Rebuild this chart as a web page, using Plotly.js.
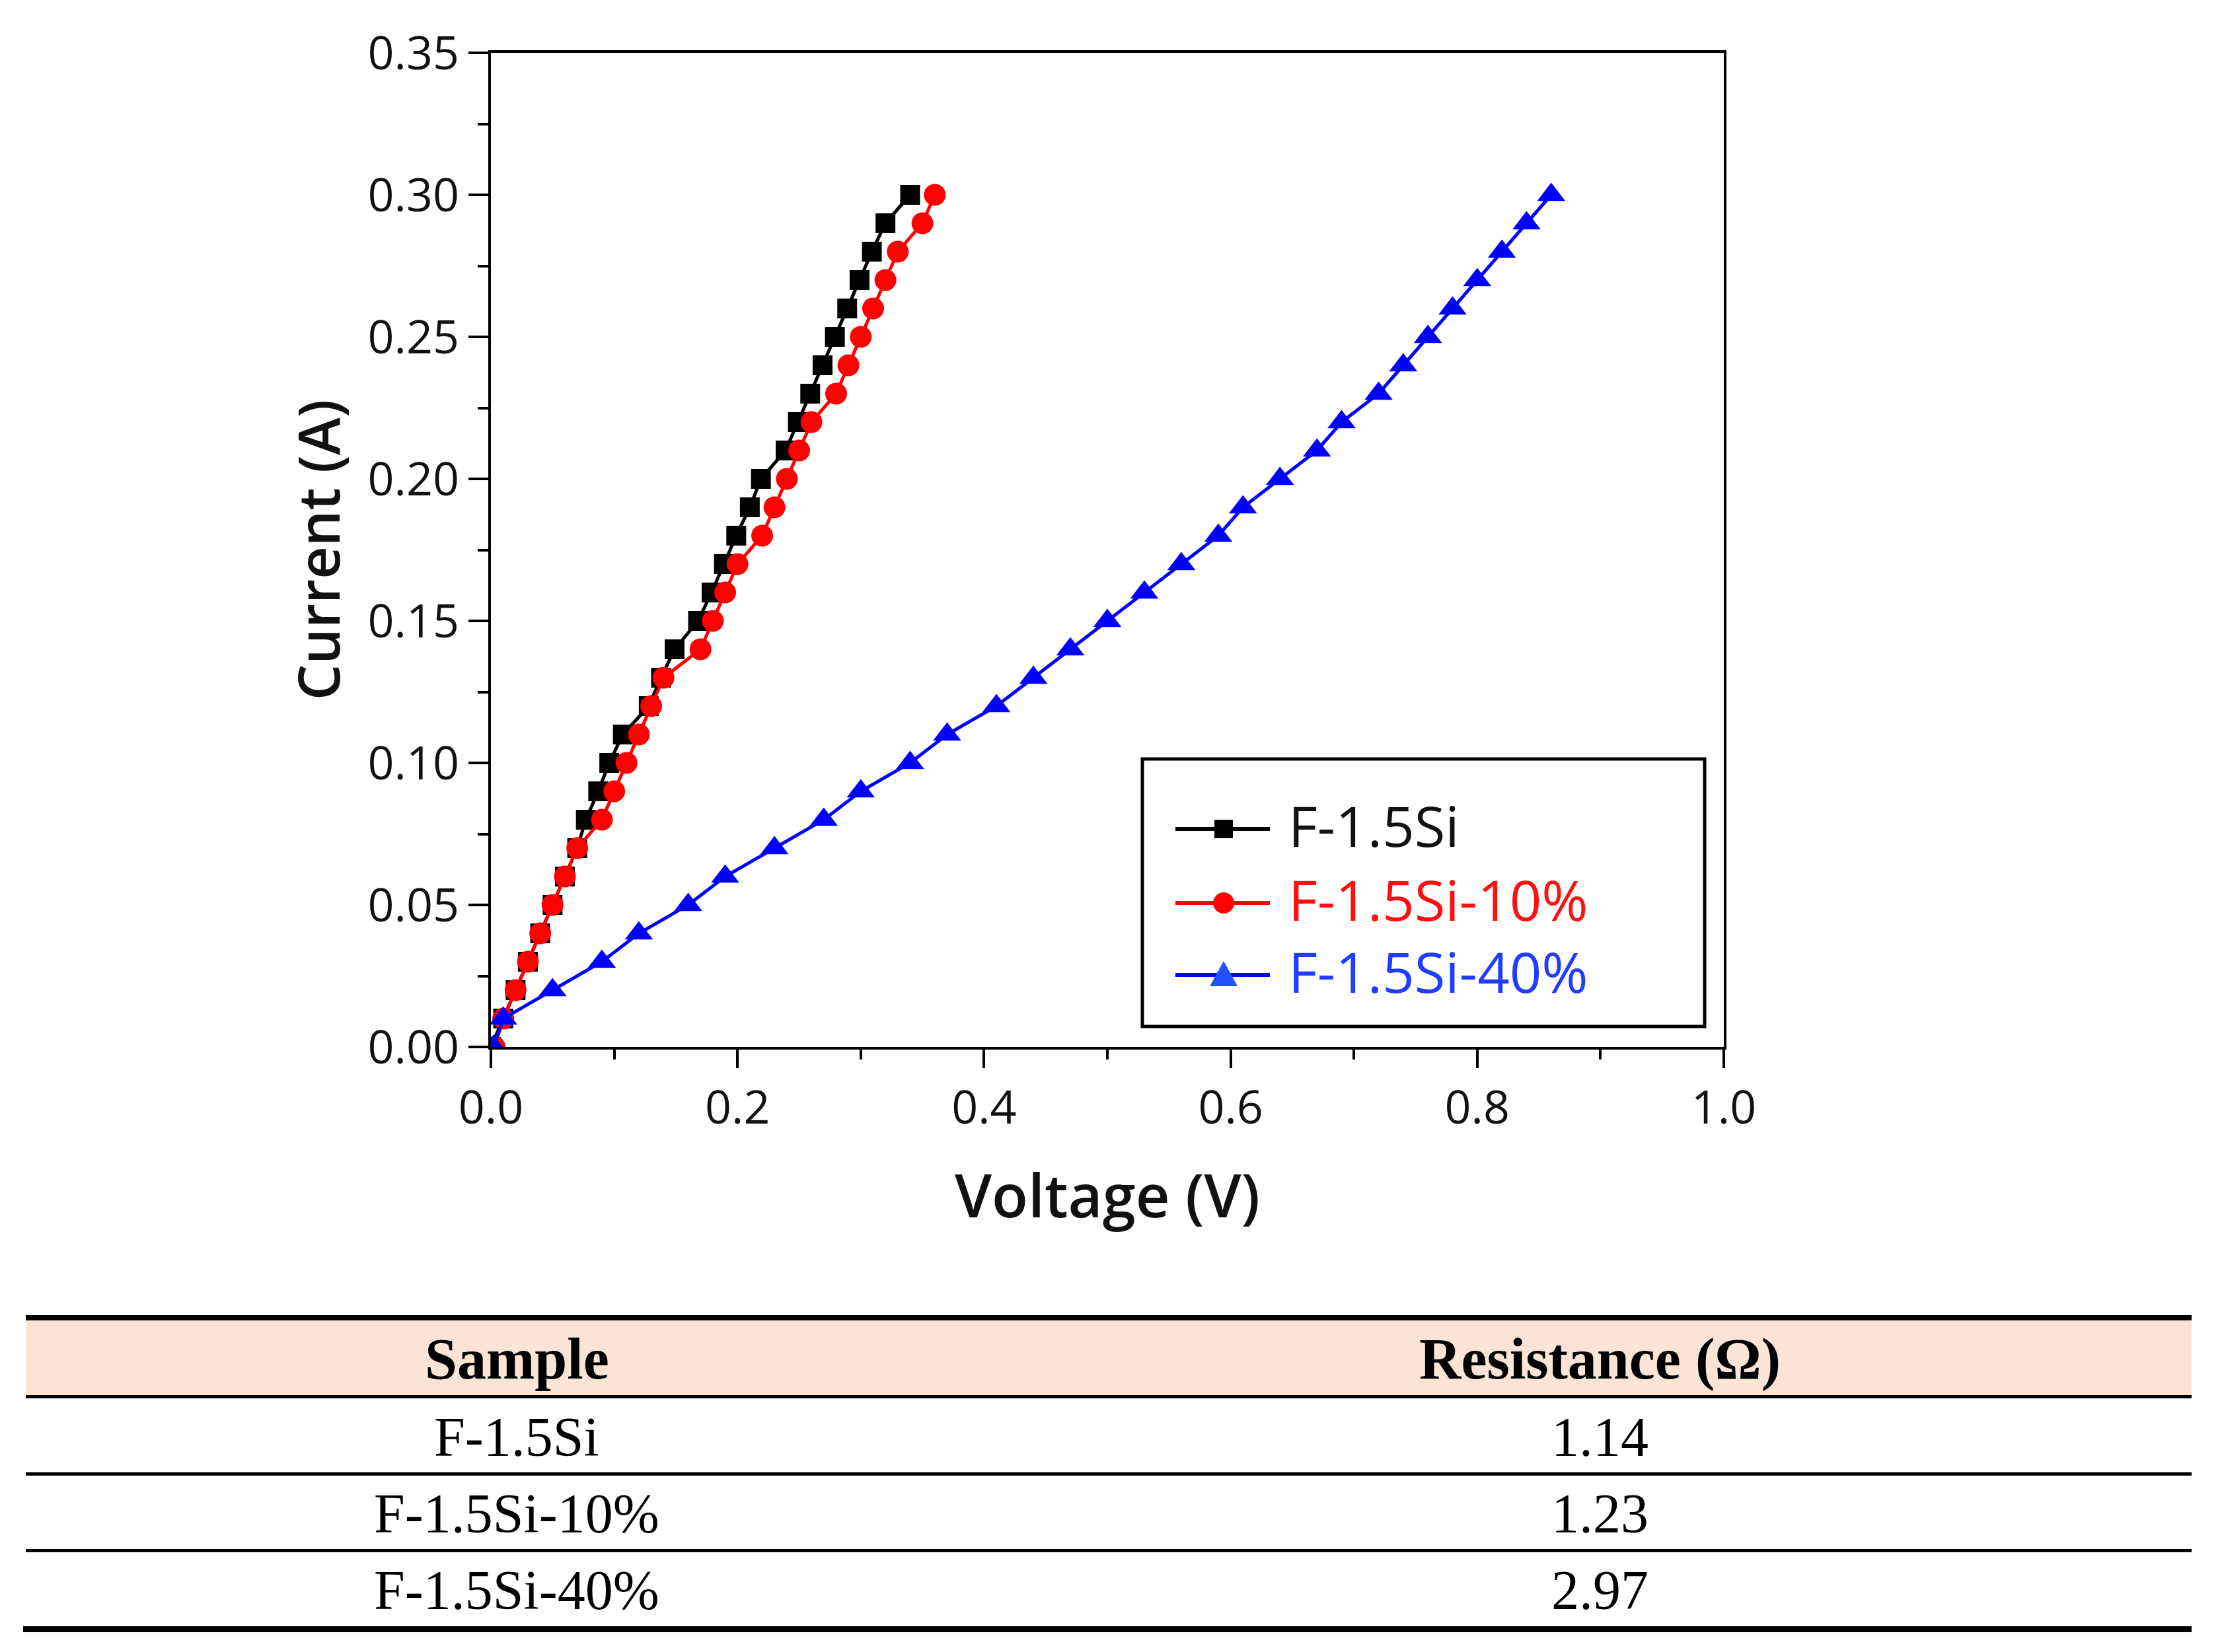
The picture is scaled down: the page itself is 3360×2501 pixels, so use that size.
<!DOCTYPE html>
<html>
<head>
<meta charset="utf-8">
<script src="https://cdn.plot.ly/plotly-3.0.1.min.js"></script>
<style>
  html, body { margin: 0; padding: 0; background: #fff; }
  #chart { width: 3360px; height: 2501px; }
</style>
</head>
<body>
<div id="chart"></div>
<script>
// current steps (A), shared by all three I-V sweeps
var current = [0.00, 0.01, 0.02, 0.03, 0.04, 0.05, 0.06, 0.07, 0.08, 0.09, 0.10,
               0.11, 0.12, 0.13, 0.14, 0.15, 0.16, 0.17, 0.18, 0.19, 0.20,
               0.21, 0.22, 0.23, 0.24, 0.25, 0.26, 0.27, 0.28, 0.29, 0.30];

// voltage (V) for each sample
var voltage_F15Si = [0.000, 0.010, 0.020, 0.030, 0.040, 0.050, 0.060, 0.070, 0.077, 0.087, 0.096,
                     0.107, 0.128, 0.138, 0.149, 0.168, 0.179, 0.189, 0.199, 0.210, 0.219,
                     0.239, 0.249, 0.259, 0.269, 0.279, 0.289, 0.299, 0.309, 0.320, 0.340];
var voltage_F15Si_10 = [0.003, 0.010, 0.020, 0.030, 0.040, 0.050, 0.060, 0.070, 0.090, 0.100, 0.110,
                        0.120, 0.130, 0.140, 0.170, 0.180, 0.190, 0.200, 0.220, 0.230, 0.240,
                        0.250, 0.260, 0.280, 0.290, 0.300, 0.310, 0.320, 0.330, 0.350, 0.360];
var voltage_F15Si_40 = [0.002, 0.010, 0.050, 0.090, 0.120, 0.160, 0.190, 0.230, 0.270, 0.300, 0.340,
                        0.370, 0.410, 0.440, 0.470, 0.500, 0.530, 0.560, 0.590, 0.610, 0.640,
                        0.670, 0.690, 0.720, 0.740, 0.760, 0.780, 0.800, 0.820, 0.840, 0.860];

var seriesNames = ['F-1.5Si', 'F-1.5Si-10%', 'F-1.5Si-40%'];
var seriesColors = ['#000000', '#ff0000', '#0000ff'];
var legendTextColors = ['#111111', '#ff1010', '#1f3cff'];
var seriesSymbols = ['square', 'circle', 'triangle-up'];

// table under the chart
var tableHeader = ['Sample', 'Resistance (\u03A9)'];
var tableSamples = ['F-1.5Si', 'F-1.5Si-10%', 'F-1.5Si-40%'];
var tableResistance = ['1.14', '1.23', '2.97'];

// page geometry (px)
var W = 3360, H = 2501;
var mL = 39, mR = 43, mT = 80, mB = 30;
var pw = W - mL - mR, ph = H - mT - mB;
function px(x) { return (x - mL) / pw; }
function py(y) { return (H - mB - y) / ph; }

var chartFont = 'Open Sans, Noto Sans, sans-serif';
var serif = 'Liberation Serif, DejaVu Serif, serif';
var markerSizes = [30, 33, 37];

var data = [];
var voltages = [voltage_F15Si, voltage_F15Si_10, voltage_F15Si_40];
for (var s = 0; s < 3; s++) {
  data.push({
    x: voltages[s], y: current,
    name: seriesNames[s],
    type: 'scatter', mode: 'lines+markers',
    line: {color: seriesColors[s], width: 5},
    marker: {symbol: seriesSymbols[s], size: markerSizes[s], color: seriesColors[s]}
  });
}

var axisCommon = {
  showgrid: false,
  zeroline: false,
  showline: true,
  linecolor: '#000',
  linewidth: 4,
  mirror: true,
  ticks: 'outside',
  tickcolor: '#000',
  tickwidth: 4,
  tickfont: {family: chartFont, size: 70, color: '#111'}
};

var annotations = [];
var shapes = [];

// ---- legend, drawn by hand so the symbols keep the plot's size ----
var legRowY = [1255, 1367, 1476];
shapes.push({type: 'rect', xref: 'paper', yref: 'paper', x0: px(1729), x1: px(2580), y0: py(1554), y1: py(1149),
             fillcolor: '#fff', line: {color: '#000', width: 5}});
for (var k = 0; k < 3; k++) {
  var cy = legRowY[k], cx = 1852;
  shapes.push({type: 'line', xref: 'paper', yref: 'paper', x0: px(1779), x1: px(1922), y0: py(cy), y1: py(cy),
               line: {color: seriesColors[k], width: 6}});
  if (seriesSymbols[k] === 'square') {
    shapes.push({type: 'rect', xref: 'paper', yref: 'paper', x0: px(cx - 14), x1: px(cx + 14), y0: py(cy + 14), y1: py(cy - 14),
                 fillcolor: seriesColors[k], line: {width: 0}});
  } else if (seriesSymbols[k] === 'circle') {
    shapes.push({type: 'circle', xref: 'paper', yref: 'paper', x0: px(cx - 16), x1: px(cx + 16), y0: py(cy + 16), y1: py(cy - 16),
                 fillcolor: seriesColors[k], line: {width: 0}});
  } else {
    shapes.push({type: 'path', xref: 'paper', yref: 'paper',
                 path: 'M' + px(cx - 21) + ',' + py(cy + 17) + ' L' + px(cx + 21) + ',' + py(cy + 17) +
                       ' L' + px(cx) + ',' + py(cy - 21) + ' Z',
                 fillcolor: '#2050ff', line: {width: 0}});
  }
  annotations.push({xref: 'paper', yref: 'paper', x: px(1948), y: py(cy - 6), xanchor: 'left', yanchor: 'middle',
                    text: seriesNames[k], showarrow: false,
                    font: {family: chartFont, size: 85, color: legendTextColors[k]}});
}

// ---- table ----
var colX = [782, 2421];
annotations.push({xref: 'paper', yref: 'paper', x: px(colX[0]), y: py(2057), xanchor: 'center', yanchor: 'middle',
  text: '<b>' + tableHeader[0] + '</b>', showarrow: false, font: {family: serif, size: 88, color: '#000'}});
annotations.push({xref: 'paper', yref: 'paper', x: px(colX[1]), y: py(2057), xanchor: 'center', yanchor: 'middle',
  text: '<b>' + tableHeader[1] + '</b>', showarrow: false, font: {family: serif, size: 88, color: '#000'}});
var rowY = [2175, 2291, 2407];
for (var i = 0; i < tableSamples.length; i++) {
  annotations.push({xref: 'paper', yref: 'paper', x: px(colX[0]), y: py(rowY[i]), xanchor: 'center', yanchor: 'middle',
    text: tableSamples[i], showarrow: false, font: {family: serif, size: 84, color: '#000'}});
  annotations.push({xref: 'paper', yref: 'paper', x: px(colX[1]), y: py(rowY[i]), xanchor: 'center', yanchor: 'middle',
    text: tableResistance[i], showarrow: false, font: {family: serif, size: 84, color: '#000'}});
}

function rule(y, w, x0) {
  return {type: 'line', xref: 'paper', yref: 'paper', x0: px(x0 || 39), x1: px(3317),
          y0: py(y), y1: py(y), line: {color: '#000', width: w}};
}
shapes.push({type: 'rect', xref: 'paper', yref: 'paper', x0: px(39), x1: px(3317), y0: py(2112), y1: py(1999),
             fillcolor: '#fbe3d6', line: {width: 0}, layer: 'below'});
shapes.push(rule(1995, 8));
shapes.push(rule(2114.5, 5));
shapes.push(rule(2231.5, 5));
shapes.push(rule(2347.5, 5));
shapes.push(rule(2466.5, 9, 35));

var layout = {
  width: W,
  height: H,
  margin: {l: mL, r: mR, t: mT, b: mB},
  paper_bgcolor: '#fff',
  plot_bgcolor: '#fff',
  showlegend: false,
  xaxis: Object.assign({}, axisCommon, {
    domain: [px(743), px(2609)],
    range: [0, 1],
    tick0: 0, dtick: 0.2,
    ticklen: 28,
    tickformat: '.1f',
    minor: {dtick: 0.1, ticks: 'outside', ticklen: 15, tickwidth: 4, tickcolor: '#000', showgrid: false},
    title: {text: 'Voltage (V)', standoff: 60, font: {family: chartFont, size: 90, weight: 600, color: '#111'}}
  }),
  yaxis: Object.assign({}, axisCommon, {
    domain: [py(1585), 1],
    range: [0, 0.35],
    tick0: 0, dtick: 0.05,
    ticklen: 30,
    tickformat: '.2f',
    minor: {dtick: 0.025, ticks: 'outside', ticklen: 16, tickwidth: 4, tickcolor: '#000', showgrid: false},
    title: {text: 'Current (A)', standoff: 14, font: {family: chartFont, size: 86, weight: 600, color: '#111'}}
  }),
  annotations: annotations,
  shapes: shapes
};

Plotly.newPlot('chart', data, layout, {staticPlot: true});
</script>
</body>
</html>
